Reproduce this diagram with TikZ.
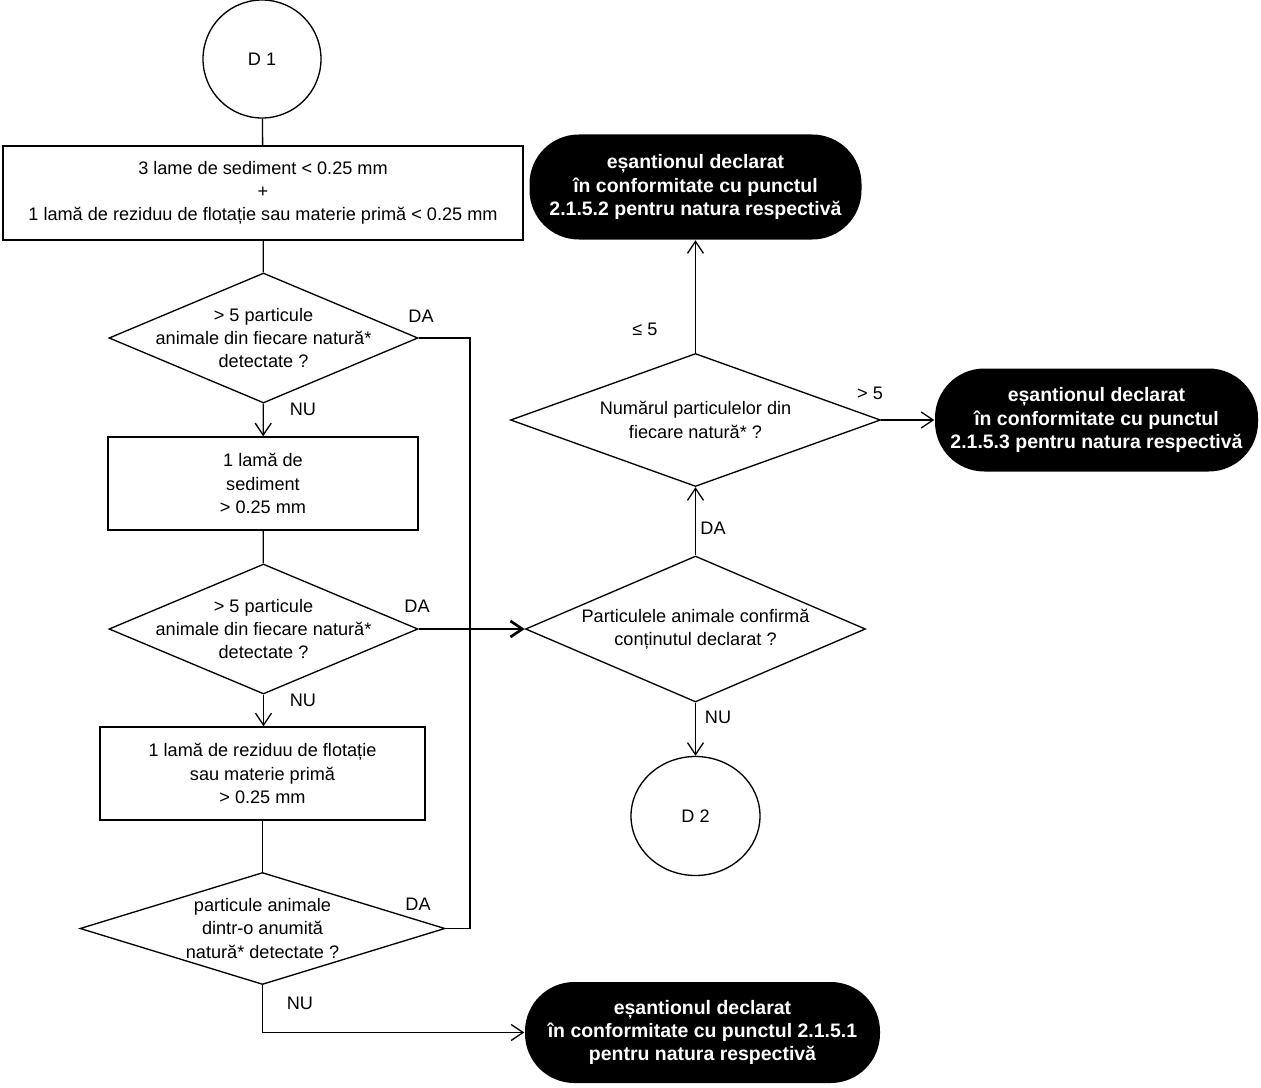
\documentclass[tikz,border=0pt]{standalone}
\usepackage{fontspec}
\setmainfont{Liberation Sans}
\usetikzlibrary{shapes.geometric,arrows.meta}

\tikzset{every picture/.style={line width=1pt}}
\tikzset{
  txt/.style={inner sep=0.75pt,align=center,font=\fontsize{13.6pt}{17.5pt}\selectfont},
  stepbox/.style={draw,rectangle,inner sep=0pt},
  decision/.style={draw,diamond,inner sep=0pt},
  connector/.style={draw,ellipse,inner sep=0pt,font=\fontsize{13.6pt}{17.5pt}\selectfont},
  terminal/.style={fill=black,rectangle,inner sep=0pt,rounded corners=37pt,text=white,align=center,
    font=\fontsize{14.6pt}{17.3pt}\selectfont\bfseries},
  lbl/.style={inner sep=0.75pt,font=\fontsize{13.6pt}{15pt}\selectfont},
  ->/.style={-{Straight Barb[length=9pt,width=12pt]}}
}

\begin{document}
\begin{tikzpicture}[x=0.75pt,y=0.75pt,yscale=-1,xscale=1]
		\useasboundingbox (0,0) rectangle (1261,1088);
		
		%Shapes left column
		\node [connector,minimum width=88.5pt,minimum height=88.5pt] (d1) at (262,59) {D 1};
		\node [stepbox,minimum width=390pt,minimum height=70.5pt] (box1) at (263,193) {};
		\node [txt] (box1t) at (box1) {3 lame de sediment < 0.25 mm\\+\\1 lamă de reziduu de flotație sau materie primă < 0.25 mm};
		\node [decision,minimum width=231.75pt,minimum height=97.5pt] (q1) at (263.5,338) {};
		\node [txt] (q1t) at (q1) {> 5 particule\\animale din fiecare natură*\\detectate ?};
		\node [stepbox,minimum width=232.5pt,minimum height=69.75pt] (box2) at (263,483.5) {};
		\node [txt] (box2t) at (box2) {1 lamă de\\sediment\\> 0.25 mm};
		\node [decision,minimum width=231.75pt,minimum height=97.5pt] (q2) at (263.5,629) {};
		\node [txt] (q2t) at (q2) {> 5 particule\\animale din fiecare natură*\\detectate ?};
		\node [stepbox,minimum width=243.75pt,minimum height=69.75pt] (box3) at (262.5,773.5) {};
		\node [txt] (box3t) at (box3) {1 lamă de reziduu de flotație\\sau materie primă\\> 0.25 mm};
		\node [decision,minimum width=273.75pt,minimum height=84pt] (q4) at (262.5,928.5) {};
		\node [txt] (q4t) at (q4) {particule animale\\dintr-o anumită\\natură* detectate ?};
		
		%Shapes right column
		\node [decision,minimum width=255pt,minimum height=109.5pt] (q3) at (695.5,629) {};
		\node [txt] (q3t) at (q3) {Particulele animale confirmă\\conținutul declarat ?};
		\node [decision,minimum width=277.5pt,minimum height=99.75pt] (q5) at (695.5,420) {};
		\node [txt] (q5t) at (q5) {Numărul particulelor din\\fiecare natură* ?};
		\node [connector,minimum width=96.75pt,minimum height=89.25pt] (d2) at (695.5,816) {D 2};
		\node [terminal,minimum width=249pt,minimum height=78.75pt] (t2) at (695.5,187) {eșantionul declarat\\în conformitate cu punctul\\2.1.5.2 pentru natura respectivă};
		\node [terminal,minimum width=242.25pt,minimum height=77.25pt] (t1) at (1096.5,420) {eșantionul declarat\\în conformitate cu punctul\\2.1.5.3 pentru natura respectivă};
		\node [terminal,minimum width=266.25pt,minimum height=75.75pt] (t3) at (702.5,1032.5) {eșantionul declarat\\în conformitate cu punctul 2.1.5.1\\pentru natura respectivă};
		
		\coordinate (bus) at (470,629);
		
		%Straight Lines
		\draw (d1) -- (box1);
		\draw (box1) -- (q1);
		\draw [->] (q1) -- (box2);
		\draw (box2) -- (q2);
		\draw [->] (q2.south) -- (q2.south |- box3.north);
		\draw (box3.south) -- (box3.south |- q4.north);
		\draw (q1.east) -| (bus);
		\draw (q2.east) -- (bus);
		\draw (q4.east) -| (bus);
		\draw [->,line width=2pt] (bus) -- (q3.west);
		\draw [->] (q4.south) |- (t3.west);
		\draw [->] (q3) -- (q5);
		\draw [->] (q3) -- (d2);
		\draw [->] (q5) -- (t2);
		\draw [->] (q5.east) -- (t1.west);
		
		% Text Node
		\node [lbl] (da1) at (421,316) {DA};
		\node [lbl] (nu1) at (303,409) {NU};
		\node [lbl] (da2) at (417,606) {DA};
		\node [lbl] (nu2) at (303,700) {NU};
		\node [lbl] (da4) at (418,904) {DA};
		\node [lbl] (nu4) at (300,1003) {NU};
		\node [lbl] (le5) at (645,329) {≤ 5};
		\node [lbl] (gt5) at (870,393) {> 5};
		\node [lbl] (da3) at (713,528) {DA};
		\node [lbl] (nu3) at (718,717) {NU};
\end{tikzpicture}
\end{document}
